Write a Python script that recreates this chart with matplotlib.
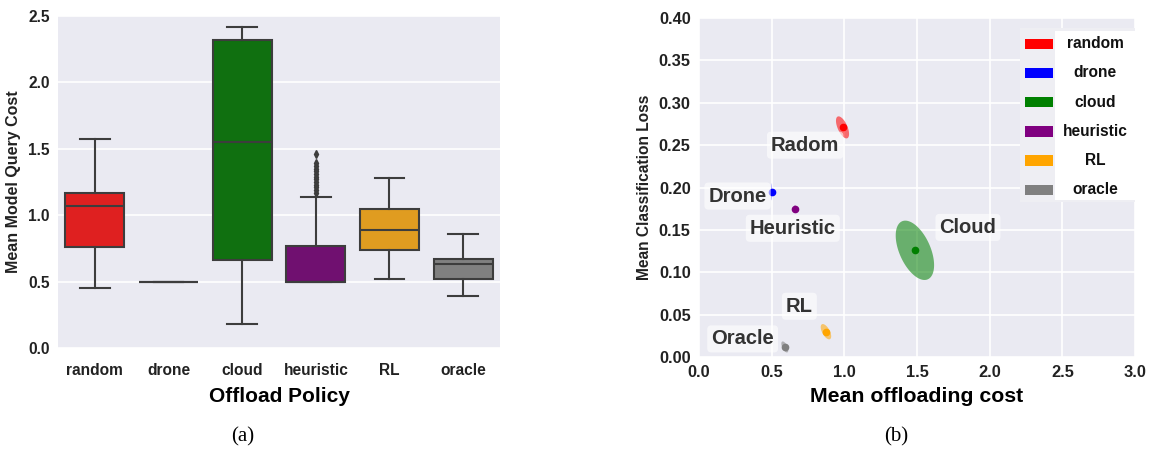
import numpy as np
import matplotlib
matplotlib.use("Agg")
import matplotlib.pyplot as plt
from matplotlib.patches import Rectangle

# ---------------- data ----------------
policies = ["random", "drone", "cloud", "heuristic", "RL", "oracle"]
box_colors = ["#df2020", "#2020df", "#107010", "#701070", "#e09c20", "#808080"]
whisker_low = [0.45, 0.50, 0.18, 0.50, 0.52, 0.39]
q1 = [0.76, 0.50, 0.66, 0.50, 0.74, 0.52]
median = [1.07, 0.50, 1.55, 0.50, 0.89, 0.63]
q3 = [1.17, 0.50, 2.32, 0.77, 1.05, 0.67]
whisker_high = [1.57, 0.50, 2.42, 1.14, 1.28, 0.86]
heuristic_outliers = [1.17, 1.19, 1.21, 1.23, 1.25, 1.27, 1.29, 1.31, 1.33,
                      1.35, 1.37, 1.39, 1.46]

scatter_names = ["random", "drone", "cloud", "heuristic", "RL", "oracle"]
scatter_colors = ["red", "blue", "green", "purple", "orange", "gray"]
mean_cost = [0.987, 0.500, 1.485, 0.660, 0.873, 0.590]
mean_loss = [0.271, 0.195, 0.126, 0.175, 0.030, 0.012]
std_cost = [0.045, 0.002, 0.132, 0.010, 0.036, 0.024]
std_loss = [0.013, 0.010, 0.035, 0.004, 0.009, 0.0065]
corr = [-0.6, 0.0, -0.5, 0.0, -0.6, -0.6]

label_texts = ["Radom", "Drone", "Cloud", "Heuristic", "RL", "Oracle"]
label_x = [0.73, 0.265, 1.85, 0.645, 0.69, 0.30]
label_y = [0.250, 0.190, 0.153, 0.152, 0.060, 0.0215]

# ---------------- figure ----------------
BG = "#EAEAF2"
plt.rcParams["font.family"] = ["Liberation Sans", "DejaVu Sans"]
fig = plt.figure(figsize=(11.69, 4.62), dpi=100)
fig.patch.set_facecolor("white")

ax1 = fig.add_axes([0.0496, 0.2468, 0.3781, 0.7186])
ax2 = fig.add_axes([0.598, 0.227, 0.373, 0.734])

for ax in (ax1, ax2):
    ax.set_facecolor(BG)
    for s in ax.spines.values():
        s.set_visible(False)
    ax.grid(True, color="white", linewidth=1.2)
    ax.set_axisbelow(True)
    ax.tick_params(length=0, pad=6)

# ---------------- panel (a) ----------------
stats = []
for i, name in enumerate(policies):
    st = dict(label=name, whislo=whisker_low[i], q1=q1[i], med=median[i],
              q3=q3[i], whishi=whisker_high[i], fliers=[])
    if name == "heuristic":
        st["fliers"] = heuristic_outliers
    stats.append(st)

lc = "#3d3d3d"
bp = ax1.bxp(stats, positions=np.arange(len(policies)), widths=0.8,
             patch_artist=True, showfliers=True,
             boxprops=dict(edgecolor=lc, linewidth=1.5),
             medianprops=dict(color=lc, linewidth=1.5),
             whiskerprops=dict(color=lc, linewidth=1.5),
             capprops=dict(color=lc, linewidth=1.5),
             flierprops=dict(marker="d", markersize=4, markerfacecolor=lc,
                             markeredgecolor=lc))
for patch, c in zip(bp["boxes"], box_colors):
    patch.set_facecolor(c)
ax1.grid(False, axis="x")
ax1.set_xlim(-0.5, len(policies) - 0.5)
ax1.set_ylim(0, 2.5)
ax1.set_yticks([0.0, 0.5, 1.0, 1.5, 2.0, 2.5])
ax1.set_yticklabels(["0.0", "0.5", "1.0", "1.5", "2.0", "2.5"])
ax1.set_xticks(np.arange(len(policies)))
ax1.set_xticklabels(policies)
ax1.tick_params(axis="x", pad=11)
for t in ax1.get_xticklabels() + ax1.get_yticklabels():
    t.set_fontsize(11.2)
    t.set_fontweight("bold")
    t.set_color("#222222")
ax1.set_xlabel("Offload Policy", fontsize=15, fontweight="bold", labelpad=6)
ax1.set_ylabel("Mean Model Query Cost", fontsize=11.5, fontweight="bold",
               color="#222222", labelpad=5)

# ---------------- panel (b) ----------------
t = np.linspace(0, 2 * np.pi, 200)
for i in range(len(scatter_names)):
    sx, sy, r = std_cost[i], std_loss[i], corr[i]
    cov = np.array([[sx * sx, r * sx * sy], [r * sx * sy, sy * sy]])
    vals, vecs = np.linalg.eigh(cov)
    vals = np.clip(vals, 0, None)
    pts = vecs @ (np.sqrt(vals)[:, None] * np.vstack([np.cos(t), np.sin(t)]))
    ax2.fill(mean_cost[i] + pts[0], mean_loss[i] + pts[1],
             color=scatter_colors[i], alpha=0.55, linewidth=0)
    ax2.plot(mean_cost[i], mean_loss[i], "o", color=scatter_colors[i],
             markersize=4.5)

for txt, x, y in zip(label_texts, label_x, label_y):
    ax2.text(x, y, txt, fontsize=14.5, fontweight="bold", color="#333333",
             ha="center", va="center",
             bbox=dict(boxstyle="round,pad=0.2", facecolor="white",
                       edgecolor="none", alpha=0.6))

ax2.set_xlim(0, 3.0)
ax2.set_ylim(0, 0.40)
ax2.set_xticks([0.0, 0.5, 1.0, 1.5, 2.0, 2.5, 3.0])
ax2.set_xticklabels(["0.0", "0.5", "1.0", "1.5", "2.0", "2.5", "3.0"])
ax2.set_yticks([0.0, 0.05, 0.10, 0.15, 0.20, 0.25, 0.30, 0.35, 0.40])
ax2.set_yticklabels(["0.00", "0.05", "0.10", "0.15", "0.20", "0.25",
                     "0.30", "0.35", "0.40"])
for tl in ax2.get_xticklabels() + ax2.get_yticklabels():
    tl.set_fontsize(11.8)
    tl.set_fontweight("bold")
    tl.set_color("#222222")
ax2.set_xlabel("Mean offloading cost", fontsize=15.3, fontweight="bold",
               labelpad=5)
ax2.set_ylabel("Mean Classification Loss", fontsize=11.2, fontweight="bold",
               color="#222222", labelpad=5)

# legend, drawn as a panel in axes coordinates (labels centred in a white column)
TA = ax2.transAxes
ax2.add_patch(Rectangle((0.736, 0.457), 0.264, 0.514, transform=TA,
                        facecolor="#EEEEF3", edgecolor="none", zorder=5))
ax2.add_patch(Rectangle((0.817, 0.462), 0.183, 0.500, transform=TA,
                        facecolor="white", edgecolor="none", zorder=5.1))
row_top, row_step = 0.924, 0.0861
for k, (name, c) in enumerate(zip(scatter_names, scatter_colors)):
    yc = row_top - k * row_step
    ax2.add_patch(Rectangle((0.748, yc - 0.0155), 0.064, 0.031, transform=TA,
                            facecolor=c, edgecolor="none", zorder=5.2))
    ax2.text(0.908, yc, name, transform=TA, ha="center", va="center",
             fontsize=11.2, fontweight="bold", color="#111111", zorder=5.3)

# captions
fig.text(0.208, 0.055, "(a)", fontsize=15, family="Liberation Serif",
         ha="center", va="center")
fig.text(0.767, 0.055, "(b)", fontsize=15, family="Liberation Serif",
         ha="center", va="center")

fig.savefig("out.png", dpi=100)
